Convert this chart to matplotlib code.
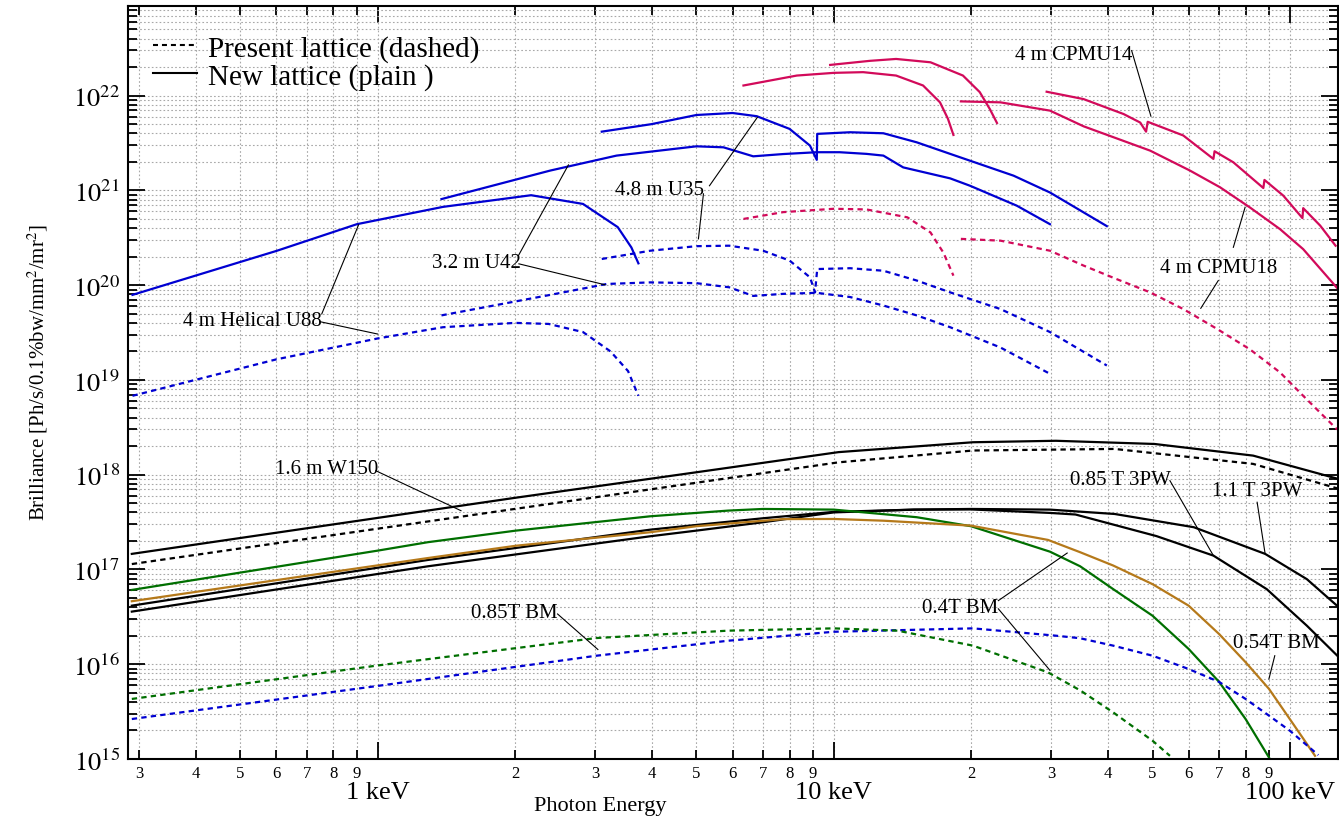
import numpy as np
import matplotlib
matplotlib.use('Agg')
import matplotlib.pyplot as plt
from matplotlib.ticker import FixedLocator, FixedFormatter, LogLocator, NullFormatter
from matplotlib.lines import Line2D

plt.rcParams['font.family'] = ['Liberation Serif', 'DejaVu Serif']
plt.rcParams['mathtext.fontset'] = 'stix'

# photon energy in keV, brilliance in Ph/s/0.1%bw/mm2/mr2
# undulators, present lattice (dashed) and new lattice (plain)
u88_new_e = [0.29, 0.6, 0.9, 1.39, 2.17, 2.82, 3.0, 3.36, 3.6, 3.73]
u88_new_b = [7.9e19, 2.3e20, 4.4e20, 6.7e20, 8.9e20, 7.2e20, 5.9e20, 4.1e20, 2.5e20, 1.7e20]
u88_old_e = [0.29, 0.6, 1.0, 1.39, 2.0, 2.37, 2.82, 3.24, 3.54, 3.73]
u88_old_b = [6.8e18, 1.65e19, 2.74e19, 3.6e19, 4.0e19, 3.9e19, 3.2e19, 2.0e19, 1.24e19, 6.8e18]

u42_new_e = [1.38, 2.39, 3.34, 5.0, 5.73, 6.66, 7.75, 9.18, 10.3, 11.8, 12.85, 14.2, 18.0, 19.9, 25.2, 29.8]
u42_new_b = [8.1e20, 1.62e21, 2.33e21, 2.92e21, 2.85e21, 2.29e21, 2.42e21, 2.53e21, 2.53e21,
             2.43e21, 2.33e21, 1.75e21, 1.34e21, 1.12e21, 6.9e20, 4.4e20]
u42_old_e = [1.38, 2.39, 3.18, 3.96, 5.0, 5.9, 6.66, 7.75, 9.18, 10.86, 12.85, 15.2, 18.0, 23.2, 29.8]
u42_old_b = [4.8e19, 7.9e19, 1.03e20, 1.07e20, 1.05e20, 9.5e19, 7.7e19, 8.1e19, 8.3e19, 7.5e19,
             6.1e19, 4.8e19, 3.6e19, 2.2e19, 1.16e19]

u35_new_e = [3.1, 3.98, 5.0, 6.0, 6.78, 8.0, 8.87, 9.18, 9.2, 10.86, 12.85, 15.2, 18.0, 24.8, 29.8, 39.7]
u35_new_b = [4.17e21, 5.0e21, 6.25e21, 6.56e21, 6.07e21, 4.46e21, 2.97e21, 2.1e21, 3.95e21, 4.11e21,
             4.01e21, 3.22e21, 2.43e21, 1.43e21, 9.5e20, 4.2e20]
u35_old_e = [3.1, 3.96, 5.0, 5.9, 7.0, 8.0, 8.87, 9.1, 9.2, 10.86, 12.85, 15.2, 18.0, 23.2, 29.8, 39.7]
u35_old_b = [1.89e20, 2.31e20, 2.58e20, 2.61e20, 2.31e20, 1.82e20, 1.21e20, 8.4e19, 1.48e20, 1.51e20,
             1.42e20, 1.12e20, 8.4e19, 5.6e19, 3.2e19, 1.42e19]

# cryogenic permanent magnet undulators
cpmu_a_new_e = [6.34, 8.3, 10.0, 11.6, 13.7, 15.7, 17.1, 17.8, 18.3]
cpmu_a_new_b = [1.28e22, 1.63e22, 1.74e22, 1.77e22, 1.63e22, 1.28e22, 8.5e21, 5.7e21, 3.85e21]
cpmu_b_new_e = [9.82, 12.0, 13.7, 16.3, 19.2, 20.9, 22.0, 22.8]
cpmu_b_new_b = [2.11e22, 2.33e22, 2.44e22, 2.25e22, 1.63e22, 1.09e22, 7.2e21, 5.15e21]
cpmu18_new_e = [19.0, 23.2, 29.8, 35.3, 49.4, 60.4, 70.3, 81.8, 95.2, 107.0, 127.6]
cpmu18_new_b = [8.7e21, 8.5e21, 6.95e21, 4.75e21, 2.63e21, 1.62e21, 1.08e21, 6.6e20, 3.9e20, 2.4e20, 9.1e19]
cpmu14_new_e = [29.3, 35.3, 43.2, 47.0, 48.4, 48.8, 58.4, 68.0, 68.4, 75.2, 87.5, 88.0, 96.8,
                106.6, 107.0, 116.6, 126.0]
cpmu14_new_b = [1.10e22, 9.2e21, 6.4e21, 5.2e21, 4.17e21, 5.3e21, 3.8e21, 2.15e21, 2.59e21, 1.98e21,
                1.06e21, 1.29e21, 8.8e20, 5.1e20, 6.5e20, 4.25e20, 2.61e20]
cpmu_a_old_e = [6.34, 7.75, 10.0, 11.8, 14.5, 16.3, 17.4, 18.3]
cpmu_a_old_b = [5.0e20, 5.9e20, 6.4e20, 6.3e20, 5.2e20, 3.6e20, 2.2e20, 1.26e20]
cpmu18_old_e = [19.0, 23.2, 29.8, 35.3, 41.7, 49.4, 58.4, 69.3, 81.8, 95.2, 107.0, 127.0]
cpmu18_old_b = [3.08e20, 2.95e20, 2.31e20, 1.61e20, 1.16e20, 8.4e19, 5.6e19, 3.45e19, 2.1e19,
                1.2e19, 6.8e18, 3.0e18]

# wigglers
w150_new_e = [0.289, 1.0, 2.0, 5.63, 10.24, 20.2, 30.7, 50.5, 83.1, 128.0]
w150_new_b = [1.46e17, 3.5e17, 5.7e17, 1.15e18, 1.73e18, 2.20e18, 2.28e18, 2.11e18, 1.59e18, 9.0e17]
w150_old_e = [0.289, 1.49, 5.87, 10.24, 20.2, 41.3, 83.1, 128.0]
w150_old_b = [1.14e17, 3.55e17, 9.2e17, 1.35e18, 1.80e18, 1.87e18, 1.30e18, 7.1e17]

pw085_e = [0.289, 1.289, 3.96, 5.0, 7.0, 10.0, 15.0, 20.0, 29.8, 33.9, 51.0, 68.0, 89.0, 109.0, 128.0]
pw085_b = [4.15e16, 1.26e17, 2.63e17, 2.95e17, 3.47e17, 4.05e17, 4.28e17, 4.3e17, 3.95e17, 3.8e17,
           2.25e17, 1.40e17, 6.2e16, 2.55e16, 1.19e16]
pw11_e = [0.289, 1.289, 3.96, 5.0, 7.0, 10.0, 15.0, 20.0, 29.8, 41.3, 61.6, 88.3, 109.0, 128.0]
pw11_b = [3.59e16, 1.08e17, 2.24e17, 2.57e17, 3.15e17, 4.0e17, 4.28e17, 4.35e17, 4.28e17, 3.85e17,
          2.79e17, 1.46e17, 7.9e16, 4.0e16]

# bending magnets
bm04_new_e = [0.289, 1.0, 1.289, 2.01, 3.96, 5.87, 7.0, 10.0, 15.2, 20.0, 29.8, 34.7, 41.0, 50.0,
              60.0, 70.0, 80.0, 90.0]
bm04_new_b = [6.08e16, 1.58e17, 1.94e17, 2.57e17, 3.64e17, 4.18e17, 4.35e17, 4.28e17, 3.56e17,
              2.86e17, 1.54e17, 1.08e17, 6.2e16, 3.25e16, 1.45e16, 6.5e15, 2.64e15, 1.04e15]
bm054_new_e = [0.289, 1.289, 2.01, 3.96, 5.0, 7.75, 10.0, 12.85, 20.0, 29.5, 34.7, 41.0, 50.0, 60.0,
               70.0, 80.0, 90.0, 100.0, 113.6]
bm054_new_b = [4.62e16, 1.32e17, 1.78e17, 2.47e17, 2.86e17, 3.4e17, 3.41e17, 3.27e17, 2.9e17, 2.05e17,
               1.52e17, 1.10e17, 7.0e16, 4.15e16, 2.08e16, 1.05e16, 5.5e15, 2.64e15, 1.08e15]
bm085_old_e = [0.289, 1.0, 3.02, 5.87, 10.0, 20.2, 30.7, 34.7, 41.0, 50.0, 60.0, 70.0, 80.0, 90.0,
               100.0, 115.5]
bm085_old_b = [2.64e15, 5.9e15, 1.23e16, 1.77e16, 2.2e16, 2.39e16, 2.0e16, 1.88e16, 1.57e16, 1.23e16,
               8.9e15, 6.5e15, 4.3e15, 2.87e15, 1.99e15, 1.1e15]
bm04_old_e = [0.289, 1.0, 3.02, 5.87, 10.0, 13.8, 20.2, 29.5, 34.7, 41.0, 50.0, 54.6]
bm04_old_b = [4.3e15, 9.7e15, 1.89e16, 2.26e16, 2.39e16, 2.26e16, 1.57e16, 8.2e15, 5.3e15, 3.1e15,
              1.56e15, 1.08e15]

x_major = [1, 10, 100]
x_major_labels = ['1 keV', '10 keV', '100 keV']
x_minor = [d * 10.0 ** k for k in (-1, 0, 1) for d in range(2, 10)]
x_minor_labels = [str(d) for k in (-1, 0, 1) for d in range(2, 10)]

BLUE = '#0000d2'
RED = '#d20a5a'
GREEN = '#006f00'
BROWN = '#b5791a'
DASH = (0, (2.4, 1.9))

curves = [
    (u88_new_e, u88_new_b, BLUE, '-'), (u88_old_e, u88_old_b, BLUE, DASH),
    (u42_new_e, u42_new_b, BLUE, '-'), (u42_old_e, u42_old_b, BLUE, DASH),
    (u35_new_e, u35_new_b, BLUE, '-'), (u35_old_e, u35_old_b, BLUE, DASH),
    (cpmu_a_new_e, cpmu_a_new_b, RED, '-'), (cpmu_b_new_e, cpmu_b_new_b, RED, '-'),
    (cpmu18_new_e, cpmu18_new_b, RED, '-'), (cpmu14_new_e, cpmu14_new_b, RED, '-'),
    (cpmu_a_old_e, cpmu_a_old_b, RED, DASH), (cpmu18_old_e, cpmu18_old_b, RED, DASH),
    (w150_new_e, w150_new_b, 'k', '-'), (w150_old_e, w150_old_b, 'k', DASH),
    (pw085_e, pw085_b, 'k', '-'), (pw11_e, pw11_b, 'k', '-'),
    (bm04_new_e, bm04_new_b, GREEN, '-'), (bm054_new_e, bm054_new_b, BROWN, '-'),
    (bm085_old_e, bm085_old_b, BLUE, DASH), (bm04_old_e, bm04_old_b, GREEN, DASH),
]

fig = plt.figure(figsize=(13.39, 8.2), dpi=100)
ax = fig.add_axes([0.0956, 0.0732, 0.9037, 0.9183])
ax.set_xscale('log')
ax.set_yscale('log')

for e, b, c, ls in curves:
    ax.plot(e, b, color=c, ls=ls, lw=1.6)

ax.set_xlim(0.2835, 127.6)
ax.set_ylim(1e15, 8.84e22)

ax.xaxis.set_major_locator(FixedLocator(x_major))
ax.xaxis.set_major_formatter(FixedFormatter(x_major_labels))
ax.xaxis.set_minor_locator(FixedLocator(x_minor))
ax.xaxis.set_minor_formatter(FixedFormatter(x_minor_labels))
ax.yaxis.set_major_locator(FixedLocator([10.0 ** k for k in range(15, 23)]))
ax.yaxis.set_major_formatter(plt.FuncFormatter(lambda v, p: r'$10^{%d}$' % round(np.log10(v))))
ax.yaxis.set_minor_locator(LogLocator(base=10, subs=range(2, 10), numticks=50))
ax.yaxis.set_minor_formatter(NullFormatter())

ax.tick_params(which='both', direction='in', top=True, right=True, width=1.3)
ax.tick_params(which='major', length=12)
ax.tick_params(which='minor', length=6.5)
ax.tick_params(axis='x', which='major', labelsize=19, pad=16)
ax.tick_params(axis='x', which='minor', labelsize=12, pad=4)
ax.tick_params(axis='y', which='major', labelsize=19, pad=6)
for s in ax.spines.values():
    s.set_linewidth(1.5)

ax.grid(True, which='both', color='#a8a8a8', ls=(0, (1.5, 2.0)), lw=0.8)
ax.set_axisbelow(True)

fig.text(0.028, 0.546, r'Brilliance [Ph/s/0.1%bw/mm$^2$/mr$^2$]', rotation=90,
         ha='center', va='center', fontsize=15)
fig.text(0.448, 0.016, 'Photon Energy', ha='center', va='center', fontsize=16)

handles = [Line2D([], [], color='k', ls=DASH, lw=1.5), Line2D([], [], color='k', lw=1.5)]
ax.legend(handles, ['Present lattice (dashed)', 'New lattice (plain )'], loc='upper left',
          bbox_to_anchor=(0.0205, 0.962), frameon=False, fontsize=21, handlelength=1.5,
          handletextpad=0.4, labelspacing=0.05, borderpad=0, borderaxespad=0)

# labels: text, text position (left, centre), leader lines
labels = [
    ('4 m Helical U88', (0.375, 4.2e19), [((0.754, 4.97e19), (0.908, 4.33e20)),
                                          ((0.747, 4.12e19), (1.0, 3.05e19))]),
    ('3.2 m U42', (1.314, 1.75e20), [((2.035, 2.05e20), (2.62, 1.86e21)),
                                     ((2.04, 1.68e20), (3.15, 1.01e20))]),
    ('4.8 m U35', (3.31, 1.03e21), [((5.34, 1.12e21), (6.80, 5.9e21)),
                                    ((5.18, 9.2e20), (5.05, 3.08e20))]),
    ('4 m CPMU14', (25.0, 2.75e22), [((45.0, 2.99e22), (49.6, 6.07e21))]),
    ('4 m CPMU18', (51.8, 1.55e20), [((75.2, 2.51e20), (79.8, 6.64e20)),
                                     ((69.7, 1.12e20), (63.8, 5.7e19))]),
    ('1.6 m W150', (0.596, 1.15e18), [((0.991, 1.10e18), (1.523, 4.17e17))]),
    ('0.85T BM', (1.598, 3.53e16), [((2.48, 3.39e16), (3.04, 1.43e16))]),
    ('0.85 T 3PW', (32.9, 9.0e17), [((54.6, 8.65e17), (68.0, 1.40e17))]),
    ('1.1 T 3PW', (67.4, 6.8e17), [((84.8, 5.12e17), (88.3, 1.46e17))]),
    ('0.4T BM', (15.6, 3.99e16), [((22.96, 4.69e16), (32.5, 1.49e17)),
                                  ((22.96, 3.84e16), (29.8, 8.6e15))]),
    ('0.54T BM', (74.9, 1.71e16), [((92.7, 1.23e16), (90.0, 7.0e15))]),
]
for txt, pos, leaders in labels:
    ax.text(pos[0], pos[1], txt, ha='left', va='center', fontsize=15)
    for p0, p1 in leaders:
        ax.plot([p0[0], p1[0]], [p0[1], p1[1]], color='k', lw=0.8)

fig.savefig('out.png', dpi=100)
